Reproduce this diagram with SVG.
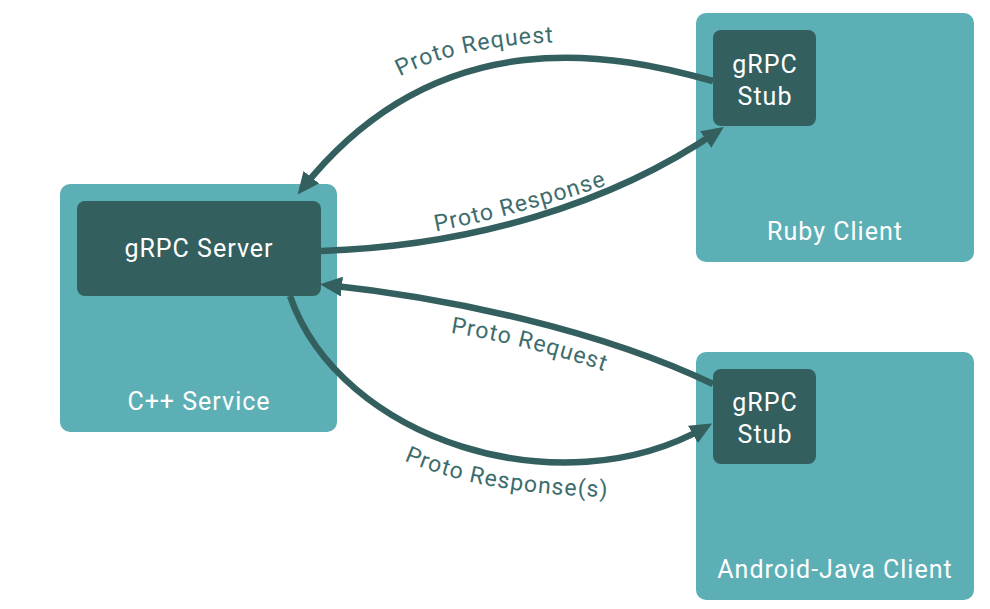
<svg xmlns="http://www.w3.org/2000/svg" width="990" height="609" viewBox="0 0 990 609">
<style>
.outer{fill:#5cafb5}
.inner{fill:#335f5f}
.lbl{font-family:Roboto,"Liberation Sans",sans-serif;font-size:25px;fill:#ffffff;text-anchor:middle;letter-spacing:1px}
.conn{fill:none;stroke:#335f5f;stroke-width:6.5}
.clbl{font-family:Roboto,"Liberation Sans",sans-serif;font-size:23px;fill:#3d6c6c;letter-spacing:1.1px}
</style>
<defs>
<marker id="arr" markerUnits="userSpaceOnUse" markerWidth="22" markerHeight="20" refX="15" refY="10" orient="auto">
<path d="M0,0 L22,10 L0,20 z" fill="#335f5f"/>
</marker>
<path id="p1" d="M393,80 Q455,45 562,42"/>
<path id="p2" d="M433,232 Q520,215 610,184"/>
<path id="p3" d="M446,332 Q530,345 609,373"/>
<path id="p4" d="M401,459 Q480,495 612,497"/>
</defs>
<rect width="990" height="609" fill="#ffffff"/>
<g id="cpp-service">
<rect class="outer" x="60" y="184" width="277" height="248" rx="10"/>
<text class="lbl" x="199" y="410">C++ Service</text>
</g>
<g id="grpc-server">
<rect class="inner" x="77" y="201" width="244" height="95" rx="8"/>
<text class="lbl" x="199" y="257">gRPC Server</text>
</g>
<g id="ruby-client">
<rect class="outer" x="696" y="13" width="278" height="249" rx="10"/>
<text class="lbl" x="835" y="240">Ruby Client</text>
</g>
<g id="ruby-stub">
<rect class="inner" x="713" y="30" width="103" height="96" rx="8"/>
<text class="lbl" x="765" y="73">gRPC</text>
<text class="lbl" x="765" y="105">Stub</text>
</g>
<g id="android-client">
<rect class="outer" x="696" y="352" width="278" height="248" rx="10"/>
<text class="lbl" x="835" y="578">Android-Java Client</text>
</g>
<g id="android-stub">
<rect class="inner" x="713" y="369" width="103" height="95" rx="8"/>
<text class="lbl" x="765" y="411">gRPC</text>
<text class="lbl" x="765" y="443">Stub</text>
</g>
<g id="connectors">
<path class="conn" d="M713,81 C620,55 440,15 302,189" marker-end="url(#arr)"/>
<path class="conn" d="M321,251 C470,246 610,205 718,131" marker-end="url(#arr)"/>
<path class="conn" d="M713,384 C600,330 450,298 327,285" marker-end="url(#arr)"/>
<path class="conn" d="M290,296 C340,440 560,510 706,427" marker-end="url(#arr)"/>
<text class="clbl"><textPath href="#p1" startOffset="50%" text-anchor="middle">Proto Request</textPath></text>
<text class="clbl"><textPath href="#p2" startOffset="50%" text-anchor="middle">Proto Response</textPath></text>
<text class="clbl"><textPath href="#p3" startOffset="50%" text-anchor="middle">Proto Request</textPath></text>
<text class="clbl"><textPath href="#p4" startOffset="50%" text-anchor="middle">Proto Response(s)</textPath></text>
</g>
</svg>
